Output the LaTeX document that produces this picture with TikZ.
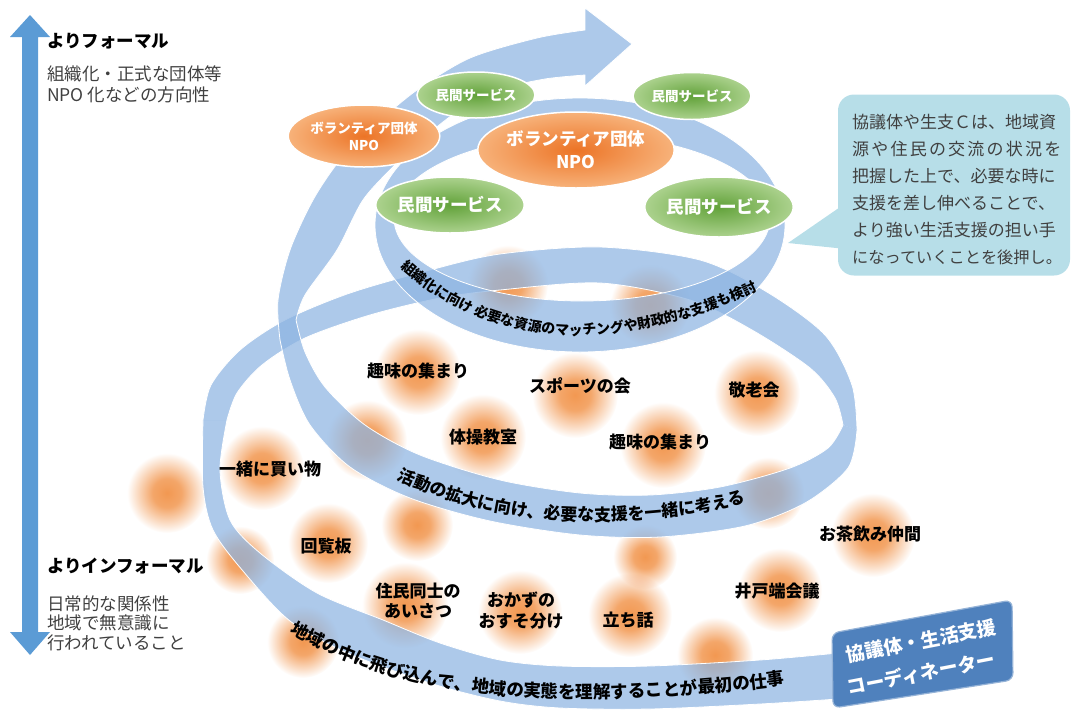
\documentclass[tikz,border=0pt]{standalone}
\usepackage{fontspec}
\newfontfamily\jp{Noto Sans CJK JP}
\usetikzlibrary{shapes.geometric,decorations.text}
\definecolor{arrowblue}{RGB}{91,155,213}
\definecolor{ribbon}{RGB}{141,180,226}
\definecolor{blobc}{RGB}{240,138,58}
\definecolor{ovalOin}{RGB}{236,116,38}
\definecolor{ovalOout}{RGB}{247,178,122}
\definecolor{ovalGin}{RGB}{98,162,58}
\definecolor{ovalGout}{RGB}{172,210,142}
\definecolor{calloutc}{RGB}{183,222,232}
\definecolor{coordc}{RGB}{79,129,189}
\definecolor{txtgray}{RGB}{64,64,64}
\pgfdeclareradialshading{blobshade}{\pgfpointorigin}{color(0bp)=(blobc!88!white); color(9bp)=(blobc!76!white); color(17bp)=(blobc!38!white); color(25bp)=(white); color(50bp)=(white)}
\tikzset{
  bandfill/.style={fill=ribbon, fill opacity=0.72},
  bandline/.style={draw=white, line width=0.8pt},
  blob/.style={shading=blobshade},
  lbl/.style={font=\jp\bfseries\fontsize{17}{17}\selectfont, inner sep=0pt, text=black},
  ovalbase/.style={ellipse, inner sep=0pt, draw=white, line width=1.5pt, text=white, align=center},
  ovalO/.style={ovalbase, shade, inner color=ovalOin, outer color=ovalOout},
  ovalG/.style={ovalbase, shade, inner color=ovalGin, outer color=ovalGout},
  ovsmall/.style={font=\jp\bfseries\fontsize{13.5}{17}\selectfont},
  ovbig/.style={font=\jp\bfseries\fontsize{17.5}{23}\selectfont},
  sidehead/.style={anchor=west, inner sep=0pt, font=\jp\bfseries\fontsize{17.5}{17.5}\selectfont, text=black},
  sidebody/.style={anchor=west, inner sep=0pt, font=\jp\fontsize{17.5}{17.5}\selectfont, text=txtgray},
  coordtxt/.style={inner sep=0pt, text=white, font=\jp\bfseries\fontsize{19}{19}\selectfont},
}
\begin{document}
\begin{tikzpicture}[x=1pt,y=-1pt]
\useasboundingbox (0,0) rectangle (1073,710);

% ---------- blurred orange blobs ----------
\begin{scope}[blend mode=multiply]
\foreach \bx/\by/\br in {167/493/40, 262/468/42, 367/440/40, 418/372/43, 575/395/43,
  483/437/43, 663/445/43, 757/393/43, 508/285/40, 650/305/40, 328/543/40,
  645/557/32, 417/525/36, 768/493/36, 240/560/34, 303/642/36, 715/655/38,
  405/605/43, 520/612/42, 630/615/42, 780/590/42, 873/535/42}
  { \shade[blob] (\bx,\by) circle (\br pt); }
\end{scope}

% ---------- spiral ribbon ----------
% back arc of the lowest turn
\fill[bandfill] plot[smooth] coordinates {(203,420) (211,385) (240,350) (285,320) (350,293) (430,270) (500,254) (600,247) (700,260) (767,292) (825,335) (852,385) (857,430)}
  -- plot[smooth] coordinates {(843,425) (835,398) (810,368) (752,330) (690,300) (600,283) (500,290) (440,298) (370,315) (305,338) (262,365) (237,393) (227,420)} -- cycle;
\draw[bandline] plot[smooth] coordinates {(203,420) (211,385) (240,350) (285,320) (350,293) (430,270) (500,254) (600,247) (700,260) (767,292) (825,335) (852,385) (857,430)};
\draw[bandline] plot[smooth] coordinates {(843,425) (835,398) (810,368) (752,330) (690,300) (600,283) (500,290) (440,298) (370,315) (305,338) (262,365) (237,393) (227,420)};

% bottom front arc
\fill[bandfill] plot[smooth] coordinates {(838,699) (760,704) (650,709) (560,708) (500,701) (433,684) (350,654) (290,621) (243,571) (213,530) (203,487) (203,420)}
  -- plot[smooth] coordinates {(227,420) (220,470) (230,520) (260,553) (317,593) (383,620) (440,643) (500,660) (560,666) (650,666) (760,660) (838,653)} -- cycle;
\draw[bandline] plot[smooth] coordinates {(838,699) (760,704) (650,709) (560,708) (500,701) (433,684) (350,654) (290,621) (243,571) (213,530) (203,487) (203,420)};
\draw[bandline] plot[smooth] coordinates {(227,420) (220,470) (230,520) (260,553) (317,593) (383,620) (440,643) (500,660) (560,666) (650,666) (760,660) (838,653)};

% middle front arc
\fill[bandfill] plot[smooth] coordinates {(857,430) (848,468) (805,503) (745,526) (660,537) (580,535) (490,521) (410,498) (350,467) (310,425) (290,380) (280,340)}
  -- plot[smooth] coordinates {(296,320) (305,352) (325,387) (365,425) (420,455) (500,480) (580,493) (650,495) (720,487) (790,468) (828,448) (843,425)} -- cycle;
\draw[bandline] plot[smooth] coordinates {(857,430) (848,468) (805,503) (745,526) (660,537) (580,535) (490,521) (410,498) (350,467) (310,425) (290,380) (280,340)};
\draw[bandline] plot[smooth] coordinates {(296,320) (305,352) (325,387) (365,425) (420,455) (500,480) (580,493) (650,495) (720,487) (790,468) (828,448) (843,425)};

% rising band with arrow head
\fill[bandfill] plot[smooth] coordinates {(280,340) (278,300) (290,250) (313,200) (340,160) (375,125) (417,90) (470,58) (537,38) (585,30)}
  -- (585,8) -- (632,44) -- (585,86)
  -- plot[smooth] coordinates {(585,75) (545,79) (503,89) (457,112) (425,137) (395,165) (363,200) (337,250) (305,295) (296,320)} -- cycle;
\draw[bandline] plot[smooth] coordinates {(280,340) (278,300) (290,250) (313,200) (340,160) (375,125) (417,90) (470,58) (537,38) (585,30)}
  -- (585,8) -- (632,44) -- (585,86)
  -- plot[smooth] coordinates {(585,75) (545,79) (503,89) (457,112) (425,137) (395,165) (363,200) (337,250) (305,295) (296,320)};

% top ring
\fill[bandfill, even odd rule] (580,225) ellipse [x radius=205pt, y radius=127pt] (582,218) ellipse [x radius=188pt, y radius=83pt];
\draw[bandline] (580,225) ellipse [x radius=205pt, y radius=127pt] (582,218) ellipse [x radius=188pt, y radius=83pt];

% ---------- ovals ----------
\node[ovalG, ovsmall, minimum width=118pt, minimum height=46pt] (svcTL) at (476,95) {民間サービス};
\node[ovalO, ovsmall, minimum width=145pt, minimum height=62pt] (npoL) at (364,136) {ボランティア団体\\NPO};
\node[ovalG, ovsmall, minimum width=118pt, minimum height=47pt] (svcTR) at (692,96) {民間サービス};
\node[ovalO, ovbig, minimum width=168pt, minimum height=76pt] (npoC) at (576,150) {ボランティア団体\\NPO};
\node[ovalG, ovbig, minimum width=146pt, minimum height=56pt] (svcL) at (450,205) {民間サービス};
\node[ovalG, ovbig, minimum width=148pt, minimum height=60pt] (svcR) at (719,207) {民間サービス};

% ---------- activity labels ----------
\node[lbl] (hobbyL) at (418,371) {趣味の集まり};
\node[lbl] (sports) at (580,386) {スポーツの会};
\node[lbl] (keiro) at (754,390) {敬老会};
\node[lbl] (taiso) at (483,437) {体操教室};
\node[lbl] (hobbyR) at (660,442) {趣味の集まり};
\node[lbl] (shop) at (270,469) {一緒に買い物};
\node[lbl] (kairan) at (326,546) {回覧板};
\node[lbl, align=center, font=\jp\bfseries\fontsize{17}{20}\selectfont] (aisatsu) at (418,601) {住民同士の\\あいさつ};
\node[lbl, align=center, font=\jp\bfseries\fontsize{17}{21}\selectfont] (okazu) at (521,611) {おかずの\\おすそ分け};
\node[lbl] (tachi) at (628,620) {立ち話};
\node[lbl] (idobata) at (777,591) {井戸端会議};
\node[lbl] (ocha) at (870,534) {お茶飲み仲間};

% ---------- texts along the ribbon ----------
\path[decorate, decoration={text along path, text align=center,
  text={|\jp\bfseries\fontsize{14}{14}\selectfont|組織化に向け 必要な資源のマッチングや財政的な支援も検討}}]
  (382,250) .. controls (434,305) and (500,334) .. (575,335) .. controls (652,335) and (724,310) .. (780,278);
\path[decorate, decoration={text along path, text align=center,
  text={|\jp\bfseries\fontsize{17}{17}\selectfont|活動の拡大に向け、必要な支援を一緒に考える}}]
  (380,471) .. controls (450,508) and (520,520) .. (585,521) .. controls (650,522) and (712,514) .. (764,497);
\path[decorate, decoration={text along path, text align=center,
  text={|\jp\bfseries\fontsize{17.5}{17.5}\selectfont|地域の中に飛び込んで、地域の実態を理解することが最初の仕事}}]
  (270,620) .. controls (356,677) and (450,695) .. (550,698) .. controls (650,700) and (742,692) .. (808,681);

% ---------- callout ----------
\node[fill=calloutc, rounded corners=16pt, minimum width=232pt, minimum height=181pt, inner sep=0pt] (callout) at (954,185) {};
\fill[calloutc] (846,203) -- (788,243) -- (846,249) -- cycle;
\node[anchor=north west, align=left, inner sep=0pt, font=\jp\fontsize{17}{27}\selectfont, text=txtgray] (callouttext) at (852,114)
  {協議体や生支Ｃは、地域資\\{\addfontfeature{LetterSpace=13}源や住民の交流の状況を}\\把握した上で、必要な時に\\支援を差し伸べることで、\\より強い生活支援の担い手\\{\fontsize{16.2}{27}\selectfont になっていくことを後押し。}};

% ---------- coordinator box ----------
\fill[coordc, draw=coordc!60!white, line width=1.2pt, rounded corners=7pt] (832,633) -- (1012,600) -- (1013,680) -- (833,708) -- cycle;
\node[coordtxt, rotate=11] (coord1) at (921,641) {協議体・生活支援};
\node[coordtxt, rotate=11] (coord2) at (921,673) {コーディネーター};

% ---------- vertical scale arrow ----------
\fill[arrowblue] (30,15) -- (50,37) -- (38,37) -- (38,632) -- (50,632) -- (30,655) -- (10,632) -- (22,632) -- (22,37) -- (10,37) -- cycle;
\node[sidehead] (formal) at (47,41) {よりフォーマル};
\node[sidebody] (formal1) at (47,74) {組織化・正式な団体等};
\node[sidebody] (formal2) at (47,95) {NPO 化などの方向性};
\node[sidehead] (informal) at (47,566) {よりインフォーマル};
\node[sidebody] (inf1) at (47,604) {日常的な関係性};
\node[sidebody] (inf2) at (47,623) {地域で無意識に};
\node[sidebody] (inf3) at (47,643) {行われていること};
\end{tikzpicture}
\end{document}
